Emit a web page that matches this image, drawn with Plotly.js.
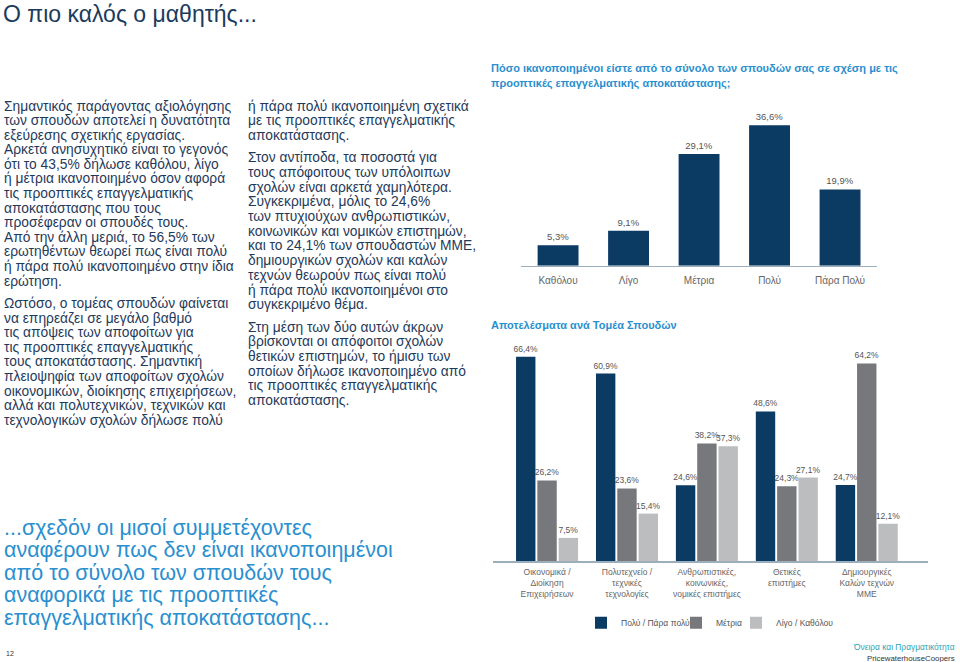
<!DOCTYPE html>
<html><head><meta charset="utf-8">
<script src="https://cdn.plot.ly/plotly-3.0.1.min.js"></script>
<style>html,body{margin:0;padding:0;background:#fff}</style>
</head><body><div id="chart" style="width:960px;height:662px"></div>
<script>
const W = 960, H = 662;

// ---- Data ----
const overallCategories = ['Καθόλου', 'Λίγο', 'Μέτρια', 'Πολύ', 'Πάρα Πολύ'];
const overallValues = [5.3, 9.1, 29.1, 36.6, 19.9];

const fieldCategories = [
  'Οικονομικά /<br>Διοίκηση<br>Επιχειρήσεων',
  'Πολυτεχνείο /<br>τεχνικές<br>τεχνολογίες',
  'Ανθρωπιστικές,<br>κοινωνικές,<br>νομικές επιστήμες',
  'Θετικές<br>επιστήμες',
  'Δημιουργικές<br>Καλών τεχνών<br>ΜΜΕ'
];
const seriesNames = ['Πολύ / Πάρα πολύ', 'Μέτρια', 'Λίγο / Καθόλου'];
const highValues = [66.4, 60.9, 24.6, 48.6, 24.7];
const midValues  = [26.2, 23.6, 38.2, 24.3, 64.2];
const lowValues  = [7.5, 15.4, 37.3, 27.1, 12.1];

// ---- Texts ----
const pageTitle = 'Ο πιο καλός ο μαθητής...';
const chart1TitleLines = ['Πόσο ικανοποιημένοι είστε από το σύνολο των σπουδών σας σε σχέση με τις',
                          'προοπτικές επαγγελματικής αποκατάστασης;'];
const chart2Title = 'Αποτελέσματα ανά Τομέα Σπουδών';
const col1Paragraphs = [
  ['Σημαντικός παράγοντας αξιολόγησης','των σπουδών αποτελεί η δυνατότητα','εξεύρεσης σχετικής εργασίας.',
   'Αρκετά ανησυχητικό είναι το γεγονός','ότι το 43,5% δήλωσε καθόλου, λίγο','ή μέτρια ικανοποιημένο όσον αφορά',
   'τις προοπτικές επαγγελματικής','αποκατάστασης που τους','προσέφεραν οι σπουδές τους.',
   'Από την άλλη μεριά, το 56,5% των','ερωτηθέντων θεωρεί πως είναι πολύ','ή πάρα πολύ ικανοποιημένο στην ίδια','ερώτηση.'],
  ['Ωστόσο, ο τομέας σπουδών φαίνεται','να επηρεάζει σε μεγάλο βαθμό','τις απόψεις των αποφοίτων για',
   'τις προοπτικές επαγγελματικής','τους αποκατάστασης. Σημαντική','πλειοψηφία των αποφοίτων σχολών',
   'οικονομικών, διοίκησης επιχειρήσεων,','αλλά και πολυτεχνικών, τεχνικών και','τεχνολογικών σχολών δήλωσε πολύ']
];
const col2Paragraphs = [
  ['ή πάρα πολύ ικανοποιημένη σχετικά','με τις προοπτικές επαγγελματικής','αποκατάστασης.'],
  ['Στον αντίποδα, τα ποσοστά για','τους απόφοιτους των υπόλοιπων','σχολών είναι αρκετά χαμηλότερα.',
   'Συγκεκριμένα, μόλις το 24,6%','των πτυχιούχων ανθρωπιστικών,','κοινωνικών και νομικών επιστημών,',
   'και το 24,1% των σπουδαστών ΜΜΕ,','δημιουργικών σχολών και καλών','τεχνών θεωρούν πως είναι πολύ',
   'ή πάρα πολύ ικανοποιημένοι στο','συγκεκριμένο θέμα.'],
  ['Στη μέση των δύο αυτών άκρων','βρίσκονται οι απόφοιτοι σχολών','θετικών επιστημών, το ήμισυ των',
   'οποίων δήλωσε ικανοποιημένο από','τις προοπτικές επαγγελματικής','αποκατάστασης.']
];
const quoteLines = ['...σχεδόν οι μισοί συμμετέχοντες','αναφέρουν πως δεν είναι ικανοποιημένοι',
  'από το σύνολο των σπουδών τους','αναφορικά με τις προοπτικές','επαγγελματικής αποκατάστασης...'];
const footer1 = 'Όνειρα και Πραγματικότητα';
const footer2 = 'PricewaterhouseCoopers';
const pageNumber = '12';

// ---- Styles ----
const NAVY = '#0b3a63', MID = '#77787b', LIGHT = '#bcbdbf';
const BODY = '#1f3a5a', BLUE = '#2a8fcf';
const FONT = 'Liberation Sans, Arial, Helvetica, sans-serif';

const px = x => x / W;
const py = y => 1 - y / H;

const annotations = [];
function addText(text, x, y, size, color, opts) {
  annotations.push(Object.assign({
    text: text, xref: 'paper', yref: 'paper', x: px(x), y: py(y),
    xanchor: 'left', yanchor: 'middle', showarrow: false,
    font: {family: FONT, size: size, color: color}
  }, opts || {}));
}
function addColumn(paras, x, y0, step, gap, size) {
  let y = y0;
  paras.forEach((p, i) => {
    if (i > 0) y += gap;
    p.forEach(line => { addText(line, x, y, size, BODY); y += step; });
  });
}

addText(pageTitle, 1, 14, 23, '#1b3b5c');
addColumn(col1Paragraphs, 2, 106, 14.6, 7.7, 13.8);
addColumn(col2Paragraphs, 246, 106, 14.7, 7.7, 13.8);
quoteLines.forEach((l, i) => addText(l, 2, 528 + i * 22.4, 21.5, BLUE));
chart1TitleLines.forEach((l, i) => addText('<b>' + l + '</b>', 489, 69 + i * 14, 11, BLUE));
addText('<b>' + chart2Title + '</b>', 489, 325, 11, BLUE);
addText(footer1, 957, 647, 8.4, '#2fa3b3', {xanchor: 'right'});
addText(footer2, 957, 658, 7.8, '#333333', {xanchor: 'right'});
addText(pageNumber, 4, 653, 7, '#333333');

const traces = [
  {type: 'bar', x: overallCategories, y: overallValues, xaxis: 'x', yaxis: 'y',
   marker: {color: NAVY}, width: 0.58, texttemplate: '%{y:.1f}%', textposition: 'outside',
   textfont: {family: FONT, size: 9.5, color: '#555'}, constraintext: 'none', cliponaxis: false,
   showlegend: false, hoverinfo: 'skip'}
];
const legendIds = ['legend', 'legend2', 'legend3'];
[[highValues, NAVY], [midValues, MID], [lowValues, LIGHT]].forEach((s, i) => {
  traces.push({type: 'bar', name: seriesNames[i], x: fieldCategories, y: s[0], xaxis: 'x2', yaxis: 'y2',
    marker: {color: s[1]}, texttemplate: '%{y:.1f}%', textposition: 'outside',
    textfont: {family: FONT, size: 8.5, color: '#555'}, constraintext: 'none', cliponaxis: false,
    legend: legendIds[i], hoverinfo: 'skip'});
});

const axisLine = {showline: true, linecolor: '#9aaebb', linewidth: 1.5, ticks: '', showgrid: false,
  zeroline: false, type: 'category', fixedrange: true};

function legendAt(x) {
  return {orientation: 'h', x: px(x), y: py(622.7), xanchor: 'left', yanchor: 'middle',
    font: {family: FONT, size: 8.5, color: '#555'}, itemwidth: 30, bgcolor: 'rgba(0,0,0,0)'};
}

const layout = {
  width: W, height: H, margin: {l: 0, r: 0, t: 0, b: 0},
  paper_bgcolor: '#fff', plot_bgcolor: 'rgba(0,0,0,0)',
  separators: ',.', barmode: 'group', bargap: 0.2, bargroupgap: 0.09,
  font: {family: FONT},
  xaxis: Object.assign({}, axisLine, {domain: [px(520.7), px(876.7)], anchor: 'y', range: [-0.53, 4.52],
    tickfont: {family: FONT, size: 10, color: '#666'}, ticklabelstandoff: 5}),
  yaxis: {domain: [py(265.7), py(112.3)], range: [0, 40], visible: false, fixedrange: true},
  xaxis2: Object.assign({}, axisLine, {domain: [px(492.7), px(928.3)], anchor: 'y2', range: [-0.68, 4.77],
    tickfont: {family: FONT, size: 8.5, color: '#666'}, ticklabelstandoff: 2}),
  yaxis2: {domain: [py(561), py(345.6)], range: [0, 70], visible: false, fixedrange: true},
  showlegend: true,
  legend: legendAt(581),
  legend2: legendAt(676),
  legend3: legendAt(736),
  annotations: annotations
};

Plotly.newPlot('chart', traces, layout, {displayModeBar: false, staticPlot: true});
</script>
</body></html>
